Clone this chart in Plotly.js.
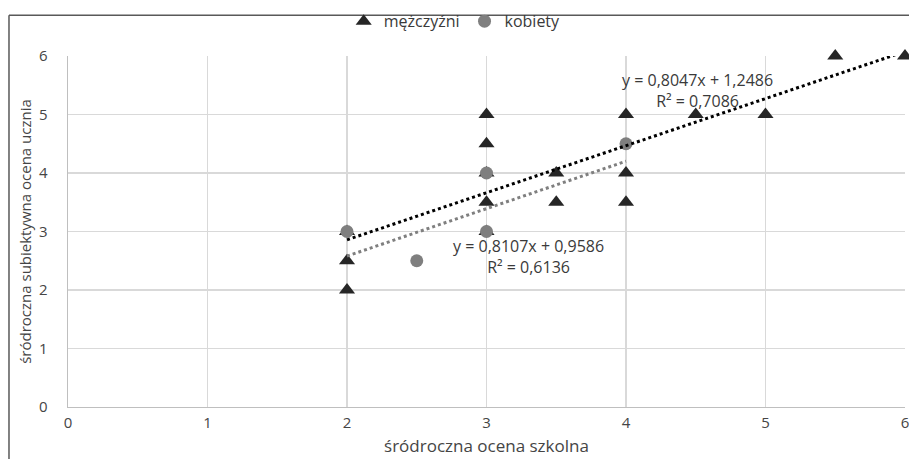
<!DOCTYPE html>
<html>
<head>
<meta charset="utf-8">
<script src="https://cdn.plot.ly/plotly-3.0.1.min.js"></script>
<style>
  html, body { margin: 0; padding: 0; background: #fff; }
  #chart { width: 909px; height: 459px; }
</style>
</head>
<body>
<div id="chart"></div>
<script>
// Men: mid-term school grade vs. student's own mid-term self-assessment
const menX = [2, 2, 2, 3, 3, 3, 3, 3, 3.5, 3.5, 4, 4, 4, 4.5, 5, 5.5, 6];
const menY = [2, 2.5, 3, 3, 3.5, 4, 4.5, 5, 3.5, 4, 3.5, 4, 5, 5, 5, 6, 6];

// Women
const womenX = [2, 2.5, 3, 3, 4];
const womenY = [3, 2.5, 4, 3, 4.5];

// Linear trend coefficients (slope, intercept, R²) shown on the chart
const menFit = { a: 0.8047, b: 1.2486, r2: 0.7086 };
const womenFit = { a: 0.8107, b: 0.9586, r2: 0.6136 };

const xTicks = [0, 1, 2, 3, 4, 5, 6];
const yTicks = [0, 1, 2, 3, 4, 5, 6];

const fmt = (v) => v.toFixed(4).replace('.', ',');

function trend(fit, xs) {
  const lo = Math.min(...xs), hi = Math.max(...xs);
  const steps = 40;
  const tx = [], ty = [];
  for (let i = 0; i <= steps; i++) {
    const x = lo + (hi - lo) * i / steps;
    tx.push(x);
    ty.push(fit.a * x + fit.b);
  }
  return { tx, ty };
}

const mt = trend(menFit, menX);
const wt = trend(womenFit, womenX);

const FONT = 'Open Sans, Noto Sans, sans-serif';
const TEXT = '#454545';

const data = [
  {
    x: menX, y: menY, type: 'scatter', mode: 'markers', name: 'mężczyźni',
    marker: { symbol: 'triangle-up', size: 14, color: '#262626' },
    cliponaxis: false
  },
  {
    x: womenX, y: womenY, type: 'scatter', mode: 'markers', name: 'kobiety',
    marker: { symbol: 'circle', size: 13, color: '#7f7f7f' },
    cliponaxis: false
  },
  {
    x: mt.tx, y: mt.ty, type: 'scatter', mode: 'lines', showlegend: false,
    line: { color: '#000000', width: 3, dash: 'dot' }, hoverinfo: 'skip',
    cliponaxis: false
  },
  {
    x: wt.tx, y: wt.ty, type: 'scatter', mode: 'lines', showlegend: false,
    line: { color: '#7f7f7f', width: 3, dash: 'dot' }, hoverinfo: 'skip',
    cliponaxis: false
  }
];

const layout = {
  width: 909, height: 459,
  margin: { l: 68, r: 4, t: 53, b: 52 },
  paper_bgcolor: '#ffffff', plot_bgcolor: '#ffffff',
  font: { family: FONT, size: 15, color: TEXT },
  showlegend: true,
  legend: {
    orientation: 'h', x: 0.462, xanchor: 'center', y: 1.099, yanchor: 'middle',
    font: { family: FONT, size: 16, color: '#3a3a3a' },
    itemwidth: 30, tracegroupgap: 0, bgcolor: 'rgba(0,0,0,0)'
  },
  xaxis: {
    range: [0, 6], tickvals: xTicks, ticktext: xTicks.map(String),
    showgrid: true, gridcolor: '#d9d9d9', gridwidth: 1.3,
    zeroline: false, showline: true, linecolor: '#bfbfbf', linewidth: 1.3,
    ticks: '', ticklabelstandoff: 2, ticklabeloverflow: 'allow',
    tickfont: { family: FONT, size: 15, color: TEXT },
    title: { text: 'śródroczna ocena szkolna', standoff: 8,
             font: { family: FONT, size: 17, color: TEXT } }
  },
  yaxis: {
    range: [0, 6], tickvals: yTicks, ticktext: yTicks.map(String),
    showgrid: true, gridcolor: '#d9d9d9', gridwidth: 1.3,
    zeroline: false, showline: true, linecolor: '#bfbfbf', linewidth: 1.3,
    ticks: '', ticklabelstandoff: 16, ticklabeloverflow: 'allow',
    tickfont: { family: FONT, size: 15, color: TEXT },
    title: { text: 'śródroczna subiektywna ocena ucznia', standoff: 4,
             font: { family: FONT, size: 15, color: TEXT } }
  },
  annotations: [
    {
      x: 4.51, y: 5.41, xref: 'x', yref: 'y', showarrow: false,
      text: 'y = ' + fmt(menFit.a) + 'x + ' + fmt(menFit.b) + '<br>R² = ' + fmt(menFit.r2),
      font: { family: FONT, size: 16, color: '#3a3a3a' }, align: 'center'
    },
    {
      x: 3.30, y: 2.58, xref: 'x', yref: 'y', showarrow: false,
      text: 'y = ' + fmt(womenFit.a) + 'x + ' + fmt(womenFit.b) + '<br>R² = ' + fmt(womenFit.r2),
      font: { family: FONT, size: 16, color: '#3a3a3a' }, align: 'center'
    }
  ],
  shapes: [
    // outer frame: top and left edges
    { type: 'line', xref: 'paper', yref: 'paper', x0: -0.0705, x1: 1.006, y0: 1.1158, y1: 1.1158,
      line: { color: '#595959', width: 1.5 } },
    { type: 'line', xref: 'paper', yref: 'paper', x0: -0.0705, x1: -0.0705, y0: 1.1158, y1: -0.15,
      line: { color: '#595959', width: 1.5 } }
  ]
};

Plotly.newPlot('chart', data, layout, { displayModeBar: false, staticPlot: true });
</script>
</body>
</html>
